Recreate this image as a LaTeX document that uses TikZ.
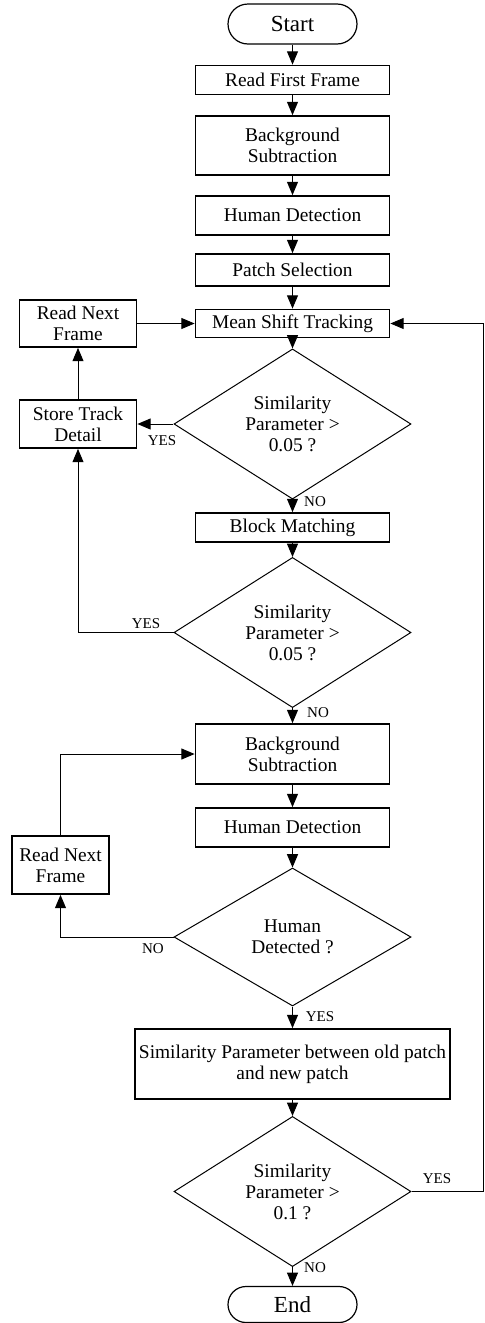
\documentclass[tikz,border=0pt]{standalone}
\usepackage{fontspec}
\setmainfont{Liberation Serif}
\usetikzlibrary{arrows,shapes.geometric}

\begin{document}
\begin{tikzpicture}[x=0.5pt,y=-0.5pt,>=triangle 45,
		font=\fontsize{9.7}{10.5}\selectfont,
		box/.style={draw,line width=0.9pt,align=center,inner sep=0pt,minimum width=97pt},
		term/.style={draw,line width=0.6pt,rounded corners=10pt,minimum width=64.5pt,minimum height=20pt,inner sep=0pt,font=\fontsize{11.5}{12}\selectfont},
		dec/.style={draw,diamond,line width=0.5pt,align=center,inner sep=0pt,minimum width=118.5pt,minimum height=69pt},
		lbl/.style={font=\fontsize{7.5}{9}\selectfont},
		line/.style={line width=0.5pt}]
			\useasboundingbox (0,0) rectangle (485,1323);

			\node[term] (start) at (292.5,24) {Start};
			\node[box,minimum height=14.5pt] (rff) at (292.5,80) {Read First Frame};
			\node[box,minimum height=29.5pt] (bs1) at (292.5,145.5) {Background\\Subtraction};
			\node[box,minimum height=19.5pt] (hd1) at (292.5,215.5) {Human Detection};
			\node[box,minimum height=16pt] (ps) at (292.5,270) {Patch Selection};
			\node[box,minimum height=14pt] (mst) at (292.5,323.5) {Mean Shift Tracking};
			\node[box,minimum width=58.5pt,minimum height=23.5pt] (rnf1) at (78,323.5) {Read Next\\Frame};
			\node[dec] (dec1) at (292.5,424) {Similarity\\Parameter >\\0.05 ?};
			\node[box,minimum width=58.5pt,minimum height=24pt] (std) at (78,424) {Store Track\\Detail};
			\node[box,minimum height=14.5pt] (bm) at (292.5,527.5) {Block Matching};
			\node[dec] (dec2) at (292.5,632.5) {Similarity\\Parameter >\\0.05 ?};
			\node[box,minimum height=30pt] (bs2) at (292.5,754) {Background\\Subtraction};
			\node[box,minimum height=19.5pt] (hd2) at (292.5,827.5) {Human Detection};
			\node[box,minimum width=48.5pt,minimum height=29pt] (rnf2) at (60.5,865) {Read Next\\Frame};
			\node[dec] (dec3) at (292.5,937) {Human\\Detected ?};
			\node[box,minimum width=157.5pt,minimum height=35pt] (sim) at (292.5,1064) {Similarity Parameter between old patch\\and new patch};
			\node[dec] (dec4) at (292.5,1191.5) {Similarity\\Parameter >\\0.1 ?};
			\node[term,minimum height=18pt,rounded corners=9pt] (end) at (292.5,1304.5) {End};
			\coordinate (rt) at (483,1191.5);

			\node[lbl] (yes1) at (162,441) {YES};
			\node[lbl] (no1) at (315,502) {NO};
			\node[lbl] (yes2) at (146,624) {YES};
			\node[lbl] (no2) at (318,713) {NO};
			\node[lbl] (no3) at (153,949) {NO};
			\node[lbl] (yes3) at (320,1017) {YES};
			\node[lbl] (yes4) at (437,1179) {YES};
			\node[lbl] (no4) at (315,1268) {NO};

			\draw[line,->] (start) -- (rff);
			\draw[line,->] (rff) -- (bs1);
			\draw[line,->] (bs1) -- (hd1);
			\draw[line,->] (hd1) -- (ps);
			\draw[line,->] (ps) -- (mst);
			\draw[line,->] (mst) -- (dec1);
			\draw[line,->] (rnf1) -- (mst);
			\draw[line,->] (dec1) -- (std);
			\draw[line,->] (std) -- (rnf1);
			\draw[line,->] (dec1) -- (bm);
			\draw[line,->] (bm) -- (dec2);
			\draw[line,->] (dec2.west) -| (std.south);
			\draw[line,->] (dec2) -- (bs2);
			\draw[line,->] (bs2) -- (hd2);
			\draw[line,->] (hd2) -- (dec3);
			\draw[line,->] (dec3.west) -| (rnf2.south);
			\draw[line,->] (rnf2.north) |- (bs2.west);
			\draw[line,->] (dec3) -- (sim);
			\draw[line,->] (sim) -- (dec4);
			\draw[line,->] (dec4) -- (end);
			\draw[line,->] (dec4.east) -- (rt) |- (mst.east);
		\end{tikzpicture}
\end{document}
